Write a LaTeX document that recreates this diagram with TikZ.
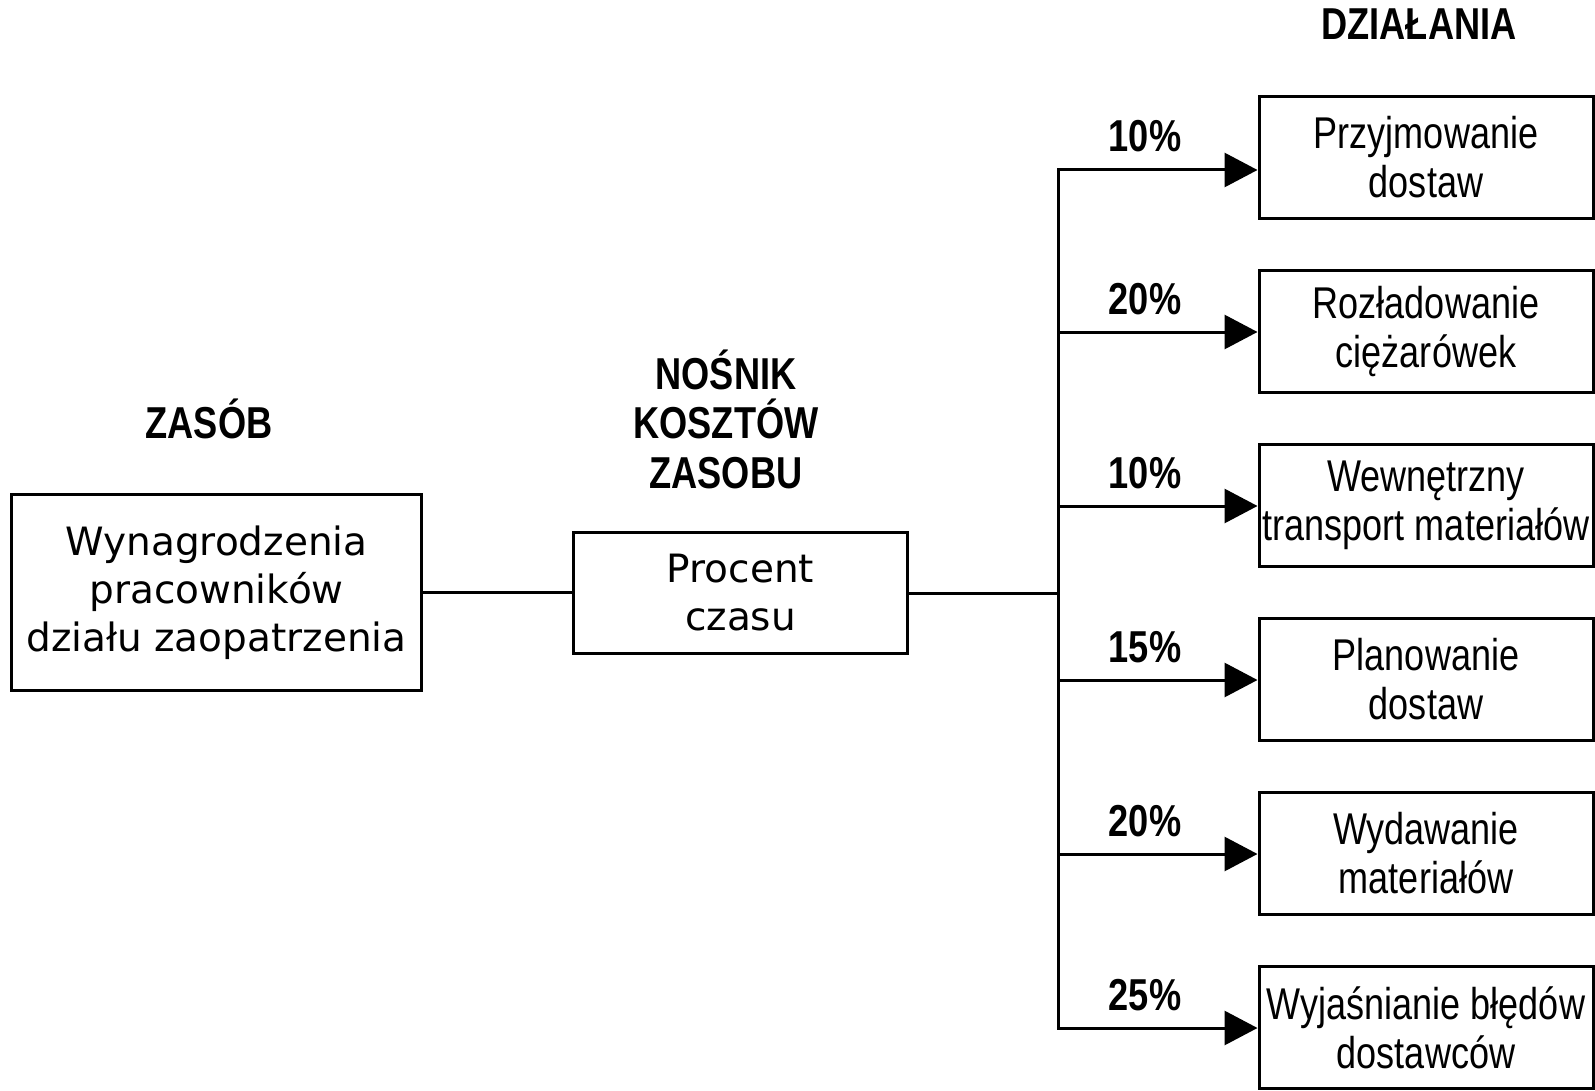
\documentclass[tikz,border=0pt]{standalone}
\usepackage{fontspec}
\setmainfont{Liberation Sans}
\newfontfamily\verd{DejaVu Sans}
\newfontfamily\narr[FakeStretch=0.81]{Liberation Sans}
\usetikzlibrary{arrows.meta}
\begin{document}
\begin{tikzpicture}[x=1pt,y=-1pt,
  box/.style={draw,line width=3pt,inner sep=2pt,align=center},
  lbox/.style={box,font=\verd\fontsize{39}{48}\selectfont},
  rbox/.style={box,minimum width=334pt,minimum height=122pt,font=\narr\fontsize{44.5}{49}\selectfont},
  head/.style={font=\narr\bfseries\fontsize{44.7}{49.5}\selectfont,align=center,inner sep=0pt},
  pct/.style={font=\narr\bfseries\fontsize{44.7}{47}\selectfont,inner sep=0pt},
  conn/.style={line width=3pt},
  arr/.style={line width=3pt,-{Triangle[length=33pt,width=34pt]}}]
\useasboundingbox (0,0) rectangle (1595,1091);

% headings
\node[head,anchor=base] (hzas) at (209,438) {ZASÓB};
\node[head,anchor=base] (hnos) at (726,488) {NOŚNIK\\KOSZTÓW\\ZASOBU};
\node[head,anchor=base] (hdz) at (1419,40) {DZIAŁANIA};

% left and middle boxes
\node[lbox,minimum width=410pt,minimum height=196pt] (lb) at (216.5,592.5)
  {Wynagrodzenia\\pracowników\\działu zaopatrzenia};
\node[lbox,minimum width=334pt,minimum height=121pt] (mb) at (740.5,593)
  {Procent\\czasu};

% right boxes
\node[rbox] (r1) at (1426,157.5) {Przyjmowanie\\dostaw};
\node[rbox] (r2) at (1426,331.5) {Rozładowanie\\ciężarówek};
\node[rbox] (r3) at (1426,505.5) {Wewnętrzny\\transport materiałów};
\node[rbox] (r4) at (1426,679.5) {Planowanie\\dostaw};
\node[rbox] (r5) at (1426,853.5) {Wydawanie\\materiałów};
\node[rbox] (r6) at (1426,1027.5) {Wyjaśnianie błędów\\dostawców};

% junction coordinates
\coordinate (j1) at (1058,170);
\coordinate (j2) at (1058,332);
\coordinate (j3) at (1058,506);
\coordinate (j4) at (1058,680);
\coordinate (j5) at (1058,854);
\coordinate (j6) at (1058,1028);

% connectors
\draw[conn] (lb.east) -- (lb.east -| mb.west);
\draw[conn] (mb.east) -- (mb.east -| j1);
\draw[conn,line cap=rect] (j1) -- (j6);
\foreach \i in {1,...,6} {
  \draw[arr] (j\i) -- (j\i -| r\i.west);
}

% percentages
\node[pct,anchor=base] (p1) at (1145,152) {10\%};
\node[pct,anchor=base] (p2) at (1145,314) {20\%};
\node[pct,anchor=base] (p3) at (1145,488) {10\%};
\node[pct,anchor=base] (p4) at (1145,662) {15\%};
\node[pct,anchor=base] (p5) at (1145,836) {20\%};
\node[pct,anchor=base] (p6) at (1145,1010) {25\%};
\end{tikzpicture}
\end{document}
